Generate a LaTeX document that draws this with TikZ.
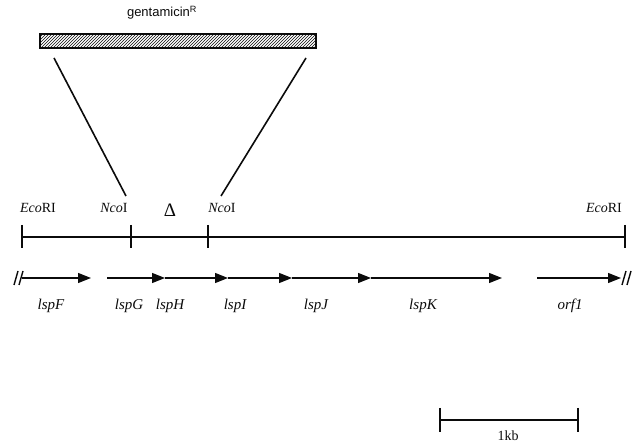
\documentclass[tikz,border=0pt]{standalone}
\usepackage{fontspec}
\setmainfont{Liberation Serif}
\newfontfamily\rotulo{Liberation Sans}
\usepackage{tikz}
\usetikzlibrary{arrows.meta,calc,positioning,patterns}
\definecolor{tinta}{HTML}{0B0B0B}
\tikzset{
  mapa/.style={draw=tinta,line width=1.3pt},
  corte/.style={draw=tinta,line width=1.3pt},
  gen/.style={draw=tinta,line width=1.3pt,-{Triangle[length=13pt,width=10pt]}},
  insercion/.style={draw=tinta,line width=1.6pt},
  casete/.style={draw=tinta,line width=1.1pt,pattern=north east lines,pattern color=tinta},
  nomgen/.style={font=\fontsize{15}{17}\selectfont\itshape,text=tinta},
  sitio/.style={font=\fontsize{14}{16}\selectfont,text=tinta},
}
\newcommand{\ruptura}[1]{%
  \draw[tinta,line width=1.4pt] ($(#1)+(-8,7)$) -- ($(#1)+(-4,-7)$);
  \draw[tinta,line width=1.4pt] ($(#1)+(-3,7)$) -- ($(#1)+(1,-7)$);
}

\begin{document}
\begin{tikzpicture}[x=1pt,y=-1pt]
\useasboundingbox (0,0) rectangle (632,443);
% casete de gentamicina
\draw[casete] (40,34) rectangle (316,48);
\node[font=\rotulo\fontsize{13}{15}\selectfont,text=tinta] (gm) at (162,13) {gentamicin\textsuperscript{R}};
\coordinate (b1) at (54,58);
\coordinate (b2) at (306,58);
\coordinate (n1) at (126,196);
\coordinate (n2) at (221,196);
\draw[insercion] (b1) -- (n1);
\draw[insercion] (b2) -- (n2);
% mapa de restriccion
\coordinate (e1) at (22,237);
\coordinate (k1) at (131,237);
\coordinate (k2) at (208,237);
\coordinate (e2) at (625,237);
\draw[mapa] (e1) -- (e2);
\foreach \c in {e1,k1,k2,e2}
  \draw[corte] ($(\c)+(0,-12)$) -- ($(\c)+(0,11)$);
\node[sitio] (eco1) at (38,208) {\textit{Eco}RI};
\node[sitio] (nco1) at (114,208) {\textit{Nco}I};
\node[sitio] (del) at (170,210) {\fontsize{19}{21}\selectfont Δ};
\node[sitio] (nco2) at (222,208) {\textit{Nco}I};
\node[sitio] (eco2) at (604,208) {\textit{Eco}RI};
% genes
\coordinate (g0) at (22,278);
\coordinate (g1) at (91,278);
\coordinate (g2) at (107,278);
\coordinate (g3) at (165,278);
\coordinate (g4) at (228,278);
\coordinate (g5) at (292,278);
\coordinate (g6) at (371,278);
\coordinate (g7) at (502,278);
\coordinate (g8) at (537,278);
\coordinate (g9) at (621,278);
\draw[gen] (g0) -- (g1);
\draw[gen] (g2) -- (g3);
\draw[gen] (g3) -- (g4);
\draw[gen] (g4) -- (g5);
\draw[gen] (g5) -- (g6);
\draw[gen] (g6) -- (g7);
\draw[gen] (g8) -- (g9);
\ruptura{g0}
\ruptura{$(g9)+(9,0)$}
\node[nomgen] (lspF) at (51,306) {lspF};
\node[nomgen] (lspG) at (129,306) {lspG};
\node[nomgen] (lspH) at (170,306) {lspH};
\node[nomgen] (lspI) at (235,306) {lspI};
\node[nomgen] (lspJ) at (316,306) {lspJ};
\node[nomgen] (lspK) at (423,306) {lspK};
\node[nomgen] (orf1) at (570,306) {orf1};
% escala
\coordinate (s1) at (440,420);
\coordinate (s2) at (578,420);
\draw[mapa] (s1) -- (s2);
\foreach \c in {s1,s2}
  \draw[corte] ($(\c)+(0,-12)$) -- ($(\c)+(0,12)$);
\node[sitio] (kb) at (508,436) {1kb};
\end{tikzpicture}
\end{document}
